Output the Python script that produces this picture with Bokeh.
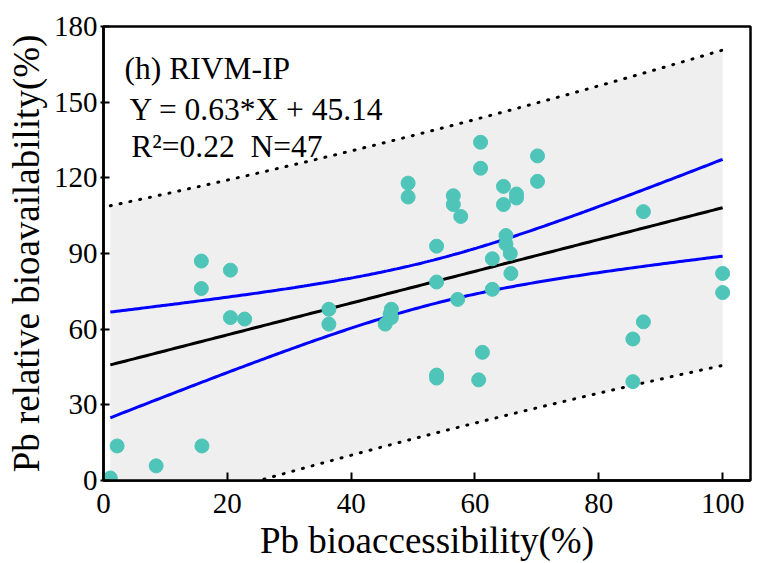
import numpy as np
from bokeh.plotting import figure
from bokeh.models import Label, FixedTicker, Range1d
from bokeh.embed import file_html
from bokeh.resources import INLINE

# ---- data ----
pb_bioaccessibility = [1.1, 2.2, 8.5, 15.9, 15.8, 15.8, 20.5, 20.5, 22.8, 36.4,
                       36.4, 45.5, 46.5, 46.5, 46.3, 49.2, 49.2, 53.8, 53.8, 53.8,
                       53.8, 56.5, 56.5, 57.7, 57.2, 60.9, 60.9, 61.2, 60.6, 62.8,
                       62.8, 64.6, 64.6, 66.7, 66.7, 65.0, 65.0, 65.7, 65.8, 70.1,
                       70.1, 87.2, 87.2, 85.5, 85.5, 100.0, 100.0]
pb_rba = [1.0, 13.7, 5.8, 13.7, 87.0, 76.1, 83.4, 64.6, 64.0, 67.9,
          62.0, 62.0, 67.9, 64.6, 66.0, 117.9, 112.4, 92.9, 78.7, 41.8,
          40.6, 112.9, 109.4, 104.7, 71.8, 134.1, 123.8, 50.8, 39.9, 87.9,
          75.8, 116.6, 109.4, 113.6, 112.0, 97.1, 93.8, 90.0, 82.1, 128.7,
          118.6, 106.6, 62.9, 56.1, 39.2, 82.1, 74.5]
SLOPE = 0.63
INTERCEPT = 45.14
x_ticks = [0, 20, 40, 60, 80, 100]
y_ticks = [0, 30, 60, 90, 120, 150, 180]
title_lines = ["(h) RIVM-IP", "Y = 0.63*X + 45.14", "R\u00b2=0.22\u00a0\u00a0N=47"]

# ---- regression bands (95% confidence and prediction) ----
x = np.array(pb_bioaccessibility)
y = np.array(pb_rba)
n = len(x)
resid = y - (SLOPE * x + INTERCEPT)
s = np.sqrt((resid ** 2).sum() / (n - 2))
xbar = x.mean()
sxx = ((x - xbar) ** 2).sum()
T_CRIT = 2.0141
xs = np.linspace(x.min(), x.max(), 200)
fit = SLOPE * xs + INTERCEPT
ci = T_CRIT * s * np.sqrt(1.0 / n + (xs - xbar) ** 2 / sxx)
pi = T_CRIT * s * np.sqrt(1.0 + 1.0 / n + (xs - xbar) ** 2 / sxx)

FONT = "Liberation Serif"

p = figure(width=762, height=563, output_backend="svg", toolbar_location=None,
           x_range=Range1d(0, 104.5), y_range=Range1d(0, 180),
           min_border_left=103, min_border_right=12, min_border_top=26,
           min_border_bottom=81)
p.background_fill_color = "white"
p.border_fill_color = "white"
p.xgrid.visible = False
p.ygrid.visible = False
p.outline_line_color = "black"
p.outline_line_width = 2.5

p.varea(x=xs, y1=fit - pi, y2=fit + pi, fill_color="#EFEFEF")
p.line(xs, fit + pi, line_color="black", line_width=3, line_dash="1 9",
       line_cap="round")
p.line(xs, fit - pi, line_color="black", line_width=3, line_dash="1 9",
       line_cap="round")
p.line(xs, fit + ci, line_color="#0000FF", line_width=3)
p.line(xs, fit - ci, line_color="#0000FF", line_width=3)
p.line(xs, fit, line_color="black", line_width=3)
p.scatter(x, y, size=14, fill_color="#4EC5B8", line_color="#4EC5B8")

for ax in (p.xaxis[0], p.yaxis[0]):
    ax.axis_line_width = 2.5
    ax.major_tick_line_width = 2
    ax.minor_tick_line_color = None
    ax.major_label_text_font = FONT
    ax.major_label_text_font_size = "29px"
    ax.major_label_text_color = "black"
    ax.axis_label_text_font = FONT
    ax.axis_label_text_font_size = "37px"
    ax.axis_label_text_font_style = "normal"
    ax.axis_label_text_color = "black"

p.xaxis.ticker = FixedTicker(ticks=x_ticks)
p.yaxis.ticker = FixedTicker(ticks=y_ticks)
p.xaxis.axis_label = "Pb bioaccessibility(%)"
p.yaxis.axis_label = "Pb relative bioavailability(%)"
p.xaxis.major_tick_in = 8
p.xaxis.major_tick_out = 0
p.yaxis.major_tick_in = 6
p.yaxis.major_tick_out = 3
p.xaxis.major_label_standoff = 13
p.yaxis.major_label_standoff = 3
p.xaxis.axis_label_standoff = 4
p.yaxis.axis_label_standoff = 4

# annotation block in the upper-left corner (data coordinates, baselines)
label_x = [3.4, 4.2, 4.5]
label_y = [163.4, 146.9, 132.3]
for t, lx, ly in zip(title_lines, label_x, label_y):
    p.add_layout(Label(x=lx, y=ly, text=t, text_font=FONT,
                       text_font_size="31.5px", text_color="black",
                       text_baseline="alphabetic"))

open("out.html", "w").write(file_html(p, INLINE))
